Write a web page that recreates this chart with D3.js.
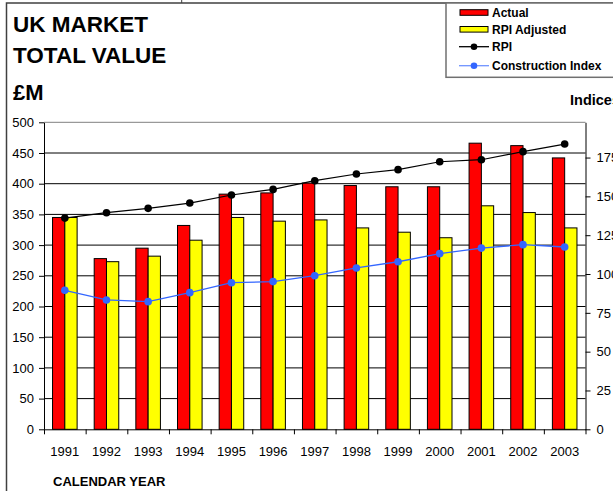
<!DOCTYPE html>
<html>
<head>
<meta charset="utf-8">
<script src="https://cdn.jsdelivr.net/npm/d3@7"></script>
<style>
  body { margin: 0; background: #fff; overflow: hidden; }
  svg { display: block; font-family: Arial, "Liberation Sans", sans-serif; }
</style>
</head>
<body>
<div id="chart"></div>
<script>
// data
const years = ["1991", "1992", "1993", "1994", "1995", "1996", "1997", "1998", "1999", "2000", "2001", "2002", "2003"];
const actual = [345, 278, 295, 332, 383, 385, 401, 397, 395, 395, 466, 462, 442];
const rpiAdjusted = [345, 273, 282, 308, 345, 339, 341, 328, 321, 312, 364, 353, 328];
const rpi = [136, 139.5, 142.3, 145.7, 150.9, 154.5, 160.1, 164.4, 167.2, 172.3, 173.6, 178.8, 183.7];
const constructionIndex = [89.5, 83.3, 82.2, 88, 94.4, 95.1, 98.9, 103.9, 107.9, 113.1, 116.7, 118.9, 117.4];
const leftTicks = [0, 50, 100, 150, 200, 250, 300, 350, 400, 450, 500];
const rightTicks = [0, 25, 50, 75, 100, 125, 150, 175];

const W = 613, H = 491;
const margin = { top: 122.3, right: 27.5, bottom: 61.7, left: 44 },
    width = W - margin.left - margin.right,
    height = H - margin.top - margin.bottom;

const root = d3.select("#chart").append("svg")
    .attr("width", W)
    .attr("height", H);

// outer frame (left + top edges visible)
root.append("path")
    .attr("d", `M6.5,${H} V3 H${W}`)
    .attr("fill", "none")
    .attr("stroke", "#404040")
    .attr("stroke-width", 1.5);
root.append("line")
    .attr("x1", 181.7).attr("x2", 181.7)
    .attr("y1", 0).attr("y2", 3)
    .attr("stroke", "#404040");

// titles
root.append("text").attr("x", 13).attr("y", 32)
    .style("font-size", "22.5px").style("font-weight", "bold").text("UK MARKET");
root.append("text").attr("x", 13).attr("y", 63)
    .style("font-size", "22.5px").style("font-weight", "bold").text("TOTAL VALUE");
root.append("text").attr("x", 13).attr("y", 100)
    .style("font-size", "22px").style("font-weight", "bold").text("£M");
root.append("text").attr("x", 570).attr("y", 104.5)
    .style("font-size", "14.5px").style("font-weight", "bold").text("Indices");
root.append("text").attr("x", 53).attr("y", 486)
    .style("font-size", "13px").style("font-weight", "bold").text("CALENDAR YEAR");

const svg = root.append("g")
    .attr("transform", `translate(${margin.left}, ${margin.top})`);

// scales
const x = d3.scaleBand()
    .domain(years)
    .range([0, width])
    .paddingInner(0.41)
    .paddingOuter(0.205);
const xSub = d3.scaleBand()
    .domain(["actual", "rpiAdjusted"])
    .range([0, x.bandwidth()]);
const xEdges = d3.scaleLinear().domain([0, years.length]).range([0, width]);
const y = d3.scaleLinear().domain([0, 500]).range([height, 0]);
const y2 = d3.scaleLinear().domain([0, 197.7]).range([height, 0]);

// gridlines
svg.append("g")
    .selectAll("line")
    .data(leftTicks.filter(d => d > 0 && d < 500))
    .enter()
    .append("line")
    .attr("x1", 0).attr("x2", width)
    .attr("y1", d => y(d)).attr("y2", d => y(d))
    .attr("stroke", "#000")
    .attr("stroke-width", 1);
svg.append("line")
    .attr("x1", 0).attr("x2", width)
    .attr("y1", 0).attr("y2", 0)
    .attr("stroke", "#808080");

// bars
const groups = svg.append("g").selectAll("g")
    .data(years)
    .enter()
    .append("g")
    .attr("transform", d => `translate(${x(d)},0)`);
groups.append("rect")
    .attr("x", xSub("actual"))
    .attr("width", xSub.bandwidth())
    .attr("y", (d, i) => y(actual[i]))
    .attr("height", (d, i) => height - y(actual[i]))
    .attr("fill", "#ff0000")
    .attr("stroke", "#000")
    .attr("stroke-width", 1);
groups.append("rect")
    .attr("x", xSub("rpiAdjusted"))
    .attr("width", xSub.bandwidth())
    .attr("y", (d, i) => y(rpiAdjusted[i]))
    .attr("height", (d, i) => height - y(rpiAdjusted[i]))
    .attr("fill", "#ffff00")
    .attr("stroke", "#000")
    .attr("stroke-width", 1);

// lines on the right axis
const cx = d => x(d) + x.bandwidth() / 2;
const line = d3.line()
    .x(d => cx(d[0]))
    .y(d => y2(d[1]));

svg.append("path")
    .datum(years.map((d, i) => [d, rpi[i]]))
    .attr("d", line)
    .attr("fill", "none")
    .attr("stroke", "#000")
    .attr("stroke-width", 1.2);
svg.append("g").selectAll("circle")
    .data(years)
    .enter()
    .append("circle")
    .attr("cx", cx)
    .attr("cy", (d, i) => y2(rpi[i]))
    .attr("r", 3.8)
    .attr("fill", "#000");

svg.append("path")
    .datum(years.map((d, i) => [d, constructionIndex[i]]))
    .attr("d", line)
    .attr("fill", "none")
    .attr("stroke", "#3366ff")
    .attr("stroke-width", 1.3);
svg.append("g").selectAll("circle")
    .data(years)
    .enter()
    .append("circle")
    .attr("cx", cx)
    .attr("cy", (d, i) => y2(constructionIndex[i]))
    .attr("r", 3.8)
    .attr("fill", "#3366ff");

// axes
const yAxis = svg.append("g")
    .call(d3.axisLeft(y).tickValues(leftTicks).tickSize(5).tickPadding(5).tickSizeOuter(0));
const y2Axis = svg.append("g")
    .attr("transform", `translate(${width},0)`)
    .call(d3.axisRight(y2).tickValues(rightTicks).tickSize(5).tickPadding(6).tickSizeOuter(0));
const xAxis = svg.append("g")
    .attr("transform", `translate(0, ${height})`)
    .call(d3.axisBottom(x).tickSize(0).tickPadding(17));
xAxis.select(".domain").remove();
const xTicks = svg.append("g")
    .attr("transform", `translate(0, ${height})`)
    .call(d3.axisBottom(xEdges).ticks(years.length).tickSize(5).tickFormat("").tickSizeOuter(0));

[yAxis, y2Axis, xAxis, xTicks].forEach(a => {
    a.selectAll("text").style("font-size", "13px").attr("fill", "#000").style("font-family", "Arial, 'Liberation Sans', sans-serif");
    a.selectAll("line").attr("stroke", "#000");
    a.selectAll(".domain").attr("stroke", "#000");
});

// legend
const legend = root.append("g");
legend.append("rect")
    .attr("x", 446).attr("y", 3)
    .attr("width", 170).attr("height", 74.3)
    .attr("fill", "#fff")
    .attr("stroke", "#707070")
    .attr("stroke-width", 1.5);

const legendItems = [
    { name: "Actual", kind: "bar", color: "#ff0000", cy: 12.5 },
    { name: "RPI Adjusted", kind: "bar", color: "#ffff00", cy: 29.3 },
    { name: "RPI", kind: "line", color: "#000", cy: 46.7 },
    { name: "Construction Index", kind: "line", color: "#3366ff", cy: 65.7 }
];
legendItems.forEach(d => {
    if (d.kind === "bar") {
        legend.append("rect")
            .attr("x", 460).attr("y", d.cy - 2.8)
            .attr("width", 28).attr("height", 5.6)
            .attr("fill", d.color)
            .attr("stroke", "#000");
    } else {
        legend.append("line")
            .attr("x1", 459).attr("x2", 489)
            .attr("y1", d.cy).attr("y2", d.cy)
            .attr("stroke", d.color === "#000" ? "#000" : "#6f93ff")
            .attr("stroke-width", 1.3);
        legend.append("circle")
            .attr("cx", 474).attr("cy", d.cy)
            .attr("r", 3.3)
            .attr("fill", d.color);
    }
    legend.append("text")
        .attr("x", 492).attr("y", d.cy + 4.3)
        .style("font-size", "12px")
        .style("font-weight", "bold")
        .text(d.name);
});
</script>
</body>
</html>
